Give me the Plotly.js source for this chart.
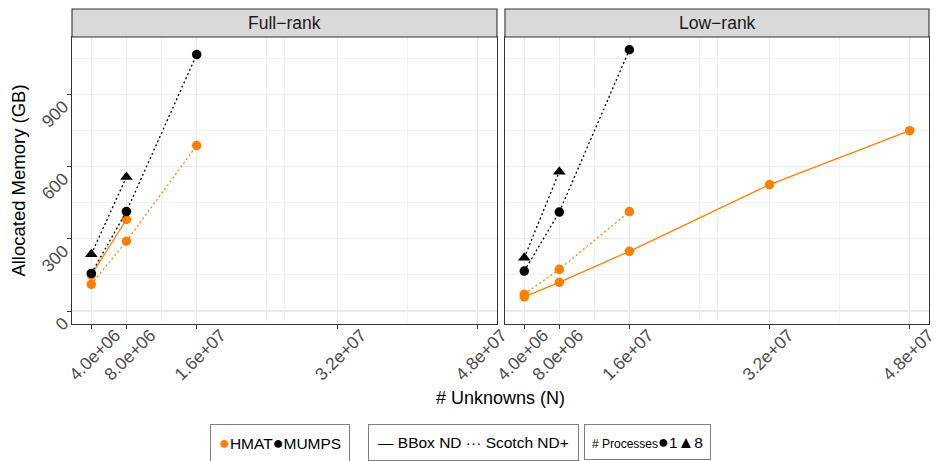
<!DOCTYPE html>
<html><head><meta charset="utf-8">
<script src="https://cdn.plot.ly/plotly-3.0.1.min.js"></script>
<style>html,body{margin:0;padding:0;background:#fff}</style>
</head><body><div id="chart" style="width:938px;height:461px"></div>
<script>
// ---- data ----
const xTickVals = [4e6, 8e6, 1.6e7, 3.2e7, 4.8e7];
const xTickText = ["4.0e+06", "8.0e+06", "1.6e+07", "3.2e+07", "4.8e+07"];
const xMinorVals = [1.2e7, 2.4e7, 2.6e7, 4e7];
const yTickVals = [0, 300, 600, 900];
const yMinorVals = [150, 450, 750, 1050];
const panelTitles = ["Full\u2212rank", "Low\u2212rank"];

// Full-rank panel
const fullHmatBboxX = [4e6, 8e6];
const fullHmatBboxY = [149, 380];
const fullHmatScotchX = [4e6, 8e6, 1.6e7];
const fullHmatScotchY = [111, 290, 687];
const fullMumpsScotch1X = [4e6, 8e6, 1.6e7];
const fullMumpsScotch1Y = [156, 413, 1065];
const fullMumpsScotch8X = [4e6, 8e6];
const fullMumpsScotch8Y = [236, 557];

// Low-rank panel
const lowHmatBboxX = [4e6, 8e6, 1.6e7, 3.2e7, 4.8e7];
const lowHmatBboxY = [59, 119, 248, 525, 749];
const lowHmatScotchX = [4e6, 8e6, 1.6e7];
const lowHmatScotchY = [70, 173, 413];
const lowMumpsScotch1X = [4e6, 8e6, 1.6e7];
const lowMumpsScotch1Y = [166, 411, 1085];
const lowMumpsScotch8X = [4e6, 8e6];
const lowMumpsScotch8Y = [221, 578];

// ---- styles ----
const ORANGE = "#FF7F00";
const BLACK = "#000000";
const FONT = "Liberation Sans, Arial, Helvetica, sans-serif";
const DOT = "2px,2.6px";

function tr(x, y, color, dash, symbol, xa, ya, name) {
  return {
    type: "scatter", mode: "lines+markers", x: x, y: y, name: name,
    xaxis: xa, yaxis: ya, showlegend: false, hoverinfo: "skip",
    line: {color: color, width: 1.3, dash: dash},
    marker: {color: color, size: symbol === "triangle-up" ? 11 : 9.5, symbol: symbol}
  };
}

const data = [
  tr(fullHmatBboxX, fullHmatBboxY, ORANGE, "solid", "circle", "x", "y", "HMAT BBox ND"),
  tr(fullHmatScotchX, fullHmatScotchY, ORANGE, DOT, "circle", "x", "y", "HMAT Scotch ND+"),
  tr(fullMumpsScotch8X, fullMumpsScotch8Y, BLACK, DOT, "triangle-up", "x", "y", "MUMPS Scotch ND+ 8"),
  tr(fullMumpsScotch1X, fullMumpsScotch1Y, BLACK, DOT, "circle", "x", "y", "MUMPS Scotch ND+ 1"),
  tr(lowHmatBboxX, lowHmatBboxY, ORANGE, "solid", "circle", "x2", "y2", "HMAT BBox ND"),
  tr(lowHmatScotchX, lowHmatScotchY, ORANGE, DOT, "circle", "x2", "y2", "HMAT Scotch ND+"),
  tr(lowMumpsScotch8X, lowMumpsScotch8Y, BLACK, DOT, "triangle-up", "x2", "y2", "MUMPS Scotch ND+ 8"),
  tr(lowMumpsScotch1X, lowMumpsScotch1Y, BLACK, DOT, "circle", "x2", "y2", "MUMPS Scotch ND+ 1")
];

const W = 938, H = 461;
const mL = 72, mR = 9, mT = 37, mB = 137;
const plotW = W - mL - mR, plotH = H - mT - mB;
const leftEnd = (497 - mL) / plotW, rightStart = (505 - mL) / plotW;

function xaxisDef(domain, shift) {
  return {
    domain: domain, range: [1.8e6, 5.02e7],
    tickmode: "array", tickvals: xTickVals, ticktext: xTickText, tickangle: -45,
    ticklabelshift: shift, ticklabelstandoff: -11, ticklabeloverflow: "allow",
    tickfont: {family: FONT, size: 17.5, color: "#4D4D4D"},
    ticks: "outside", ticklen: 4, tickwidth: 1, tickcolor: "#333333",
    showgrid: true, gridcolor: "#EBEBEB", gridwidth: 1.1,
    minor: {tickmode: "array", tickvals: xMinorVals, showgrid: true, gridcolor: "#EBEBEB", gridwidth: 0.7, ticks: ""},
    showline: true, mirror: true, linecolor: "#333333", linewidth: 1.1,
    zeroline: false, fixedrange: true, automargin: false
  };
}
function yaxisDef(showLabels) {
  return {
    range: [-54, 1138],
    tickmode: "array", tickvals: yTickVals, tickangle: -45,
    showticklabels: showLabels, ticklabelshift: 10, ticklabeloverflow: "allow",
    tickfont: {family: FONT, size: 17.5, color: "#4D4D4D"},
    ticks: showLabels ? "outside" : "", ticklen: 4, tickwidth: 1, tickcolor: "#333333",
    showgrid: true, gridcolor: "#EBEBEB", gridwidth: 1.1,
    minor: {tickmode: "array", tickvals: yMinorVals, showgrid: true, gridcolor: "#EBEBEB", gridwidth: 0.7, ticks: ""},
    showline: true, mirror: true, linecolor: "#333333", linewidth: 1.1,
    zeroline: false, fixedrange: true, automargin: false
  };
}

const stripTop = 1 + 28 / plotH;
const yLeg = -(424 - (H - mB)) / plotH;

const layout = {
  width: W, height: H,
  margin: {l: mL, r: mR, t: mT, b: mB},
  paper_bgcolor: "#FFFFFF", plot_bgcolor: "#FFFFFF",
  font: {family: FONT, color: "#000000"},
  showlegend: false,
  xaxis: xaxisDef([0, leftEnd], 24),
  xaxis2: Object.assign(xaxisDef([rightStart, 1], 19), {anchor: "y2"}),
  yaxis: Object.assign(yaxisDef(true), {
    title: {text: "Allocated Memory (GB)", font: {family: FONT, size: 18.5, color: "#000000"}, standoff: 7}
  }),
  yaxis2: Object.assign(yaxisDef(false), {anchor: "x2", matches: "y"}),
  shapes: [
    {type: "rect", xref: "paper", yref: "paper", x0: 0, x1: leftEnd, y0: 1, y1: stripTop,
     fillcolor: "#D9D9D9", line: {color: "#333333", width: 1.1}, layer: "above"},
    {type: "rect", xref: "paper", yref: "paper", x0: rightStart, x1: 1, y0: 1, y1: stripTop,
     fillcolor: "#D9D9D9", line: {color: "#333333", width: 1.1}, layer: "above"}
  ],
  annotations: [
    {text: panelTitles[0], xref: "paper", yref: "paper", x: leftEnd / 2, y: (1 + stripTop) / 2,
     xanchor: "center", yanchor: "middle", showarrow: false,
     font: {family: FONT, size: 17.5, color: "#1A1A1A"}},
    {text: panelTitles[1], xref: "paper", yref: "paper", x: (rightStart + 1) / 2, y: (1 + stripTop) / 2,
     xanchor: "center", yanchor: "middle", showarrow: false,
     font: {family: FONT, size: 17.5, color: "#1A1A1A"}},
    {text: "# Unknowns (N)", xref: "paper", yref: "paper", x: 0.5, y: -(398 - (H - mB)) / plotH,
     xanchor: "center", yanchor: "middle", showarrow: false,
     font: {family: FONT, size: 18, color: "#000000"}},
    // legend boxes
    {text: '<span style="color:' + ORANGE + ';font-size:18px">\u25CF</span>HMAT<span style="font-size:18px">\u25CF</span>MUMPS',
     xref: "paper", yref: "paper", x: (210 - mL) / plotW, y: yLeg, xanchor: "left", yanchor: "top",
     showarrow: false, bordercolor: "#7F7F7F", borderwidth: 1, borderpad: 8, bgcolor: "#FFFFFF",
     font: {family: FONT, size: 15.5, color: "#000000"}},
    {text: "\u2014 BBox ND \u00B7\u00B7\u00B7 Scotch ND+",
     xref: "paper", yref: "paper", x: (368 - mL) / plotW, y: yLeg, xanchor: "left", yanchor: "top",
     showarrow: false, bordercolor: "#7F7F7F", borderwidth: 1, borderpad: 9, bgcolor: "#FFFFFF",
     font: {family: FONT, size: 15.5, color: "#000000"}},
    {text: '<span style="font-size:12px"># Processes</span><span style="font-size:18px">\u25CF</span>1<span style="font-size:17px">\u25B2</span>8',
     xref: "paper", yref: "paper", x: (584 - mL) / plotW, y: yLeg, xanchor: "left", yanchor: "top",
     showarrow: false, bordercolor: "#7F7F7F", borderwidth: 1, borderpad: 7, bgcolor: "#FFFFFF",
     font: {family: FONT, size: 15.5, color: "#000000"}}
  ]
};

Plotly.newPlot("chart", data, layout, {staticPlot: true, displayModeBar: false});
</script>
</body></html>
